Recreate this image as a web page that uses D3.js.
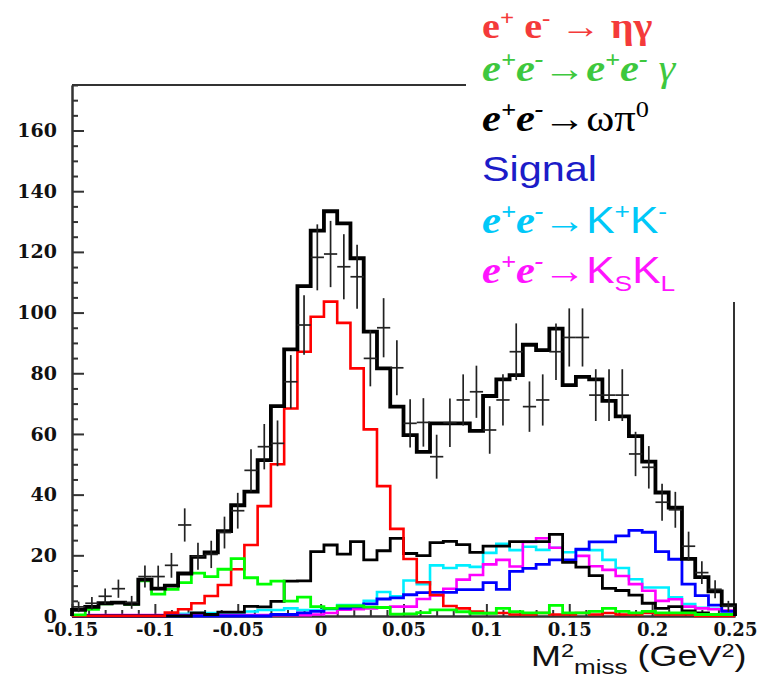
<!DOCTYPE html>
<html>
<head>
<meta charset="utf-8">
<script src="https://cdn.jsdelivr.net/npm/d3@7"></script>
<style>
  body { margin: 0; background: #fff; }
  svg { display: block; }
</style>
</head>
<body>
<script>
// Constant
const w = 757;
const h = 678;

// Binning of the histograms (50 bins of 0.008 GeV^2)
const binStart = -0.15;
const binWidth = 0.008;

// Data points (events per bin)
const dataCounts = [3, 4.2, 6.5, 9, 4.5, 13, 13, 16.7, 30, 19.7,
  20.3, 27.5, 34.7, 48, 55.8, 56.9, 77.2, 95.9, 118.2, 119.3,
  115.1, 111.8, 84.9, 95, 81.8, 63.5, 63.8, 52.5, 63.7, 71.2,
  73.9, 61.3, 71.2, 87.1, 69, 71.2, 87.1, 91.8, 91.8, 72.8,
  72.8, 72.8, 53.4, 49, 37.5, 35, 23, 14.3, 8.8, 3.2];

// Sum of all simulated contributions
const totalMC = [2, 3, 4.2, 4.4, 4, 12, 9, 10, 14, 19.5,
  21, 28, 36.5, 41, 51.4, 69.2, 87.9, 108.7, 127, 133.4,
  129.4, 117.9, 93.7, 81.6, 69, 59.6, 54.1, 63.5, 63.5, 63.5,
  61, 72.5, 78, 79.4, 89.4, 87.6, 94.7, 76.1, 78.8, 78,
  70.9, 65.8, 59.3, 50.9, 40.7, 35.7, 18.8, 12.8, 8.1, 3.6];

// e+e- -> eta gamma
const etaGamma = [0, 0, 0, 0, 0, 0, 0, 1.1, 2.2, 4.2,
  6.6, 10.2, 15.4, 23.4, 36.2, 50, 68.4, 87.1, 98.6, 103.6,
  96.6, 81.6, 61.5, 42.8, 28.7, 18.8, 11.1, 6.9, 3.3, 2.5,
  1.5, 1, 1, 0.5, 0.5, 1, 0.5, 0.5, 1, 0.5,
  1, 0.5, 0.5, 1, 0.5, 0.5, 0.5, 0, 0, 0];

// e+e- -> e+e- gamma
const eeGamma = [0.4, 2.2, 4, 4.5, 3.8, 11.6, 7.2, 8.8, 11, 14.1,
  13, 15.4, 18.9, 12.6, 10.5, 11.5, 4.9, 6.2, 3.1, 2.5,
  3.3, 3.3, 2.9, 2.8, 0.6, 0.7, 1.1, 2, 2, 1.4,
  0.9, 0.9, 2.5, 1.4, 1, 1, 3.5, 1, 1, 1.5,
  2.5, 1.5, 1, 1.5, 1, 1, 1, 0.5, 0.5, 0.5];

// e+e- -> omega pi0
const omegaPi0 = [0, 0, 0, 0, 0, 0, 0, 0, 0, 1,
  0.5, 1.3, 1.3, 3.2, 3, 4.8, 11.5, 11.6, 21.2, 23.4,
  20.4, 24.5, 18.5, 21.5, 25.6, 20.6, 19.9, 24.2, 24.6, 23.5,
  21, 23, 23, 24.5, 24.5, 24.5, 26.9, 17.7, 16.1, 13.3,
  9.1, 8.4, 6.9, 4.2, 2.5, 3.1, 1.7, 1, 0.5, 0.3];

// Signal
const signal = [0, 0, 0, 0, 0, 0, 0, 0, 0, 0,
  0, 0, 0, 0, 0, 0.5, 0.5, 1, 1.5, 2.5,
  2.5, 3, 4, 5.6, 6, 7, 7.7, 7.8, 7.8, 8.7,
  8.7, 11, 8.8, 14.7, 15.7, 17, 18.5, 18.5, 22, 24.4,
  24.4, 26.4, 28.2, 27.6, 21.2, 18.7, 10.5, 6.7, 3.6, 1.5];

// e+e- -> K+K-
const kCharged = [0, 0, 0, 0, 0, 0, 0, 0, 0.7, 1,
  1, 1, 1, 1.5, 2, 2, 2.5, 2, 2, 2.2,
  3.6, 3.6, 5, 7.9, 6.5, 11.7, 10.5, 16.7, 15.8, 16.7,
  16.2, 20.8, 23.8, 21.7, 22.8, 21.8, 22.5, 21, 21.8, 21.7,
  18.5, 15.8, 12.1, 9.4, 9.4, 6.2, 3.9, 2.7, 2.4, 1.7];

// e+e- -> KsKl
const kNeutral = [0, 0.3, 0.3, 0.3, 0.3, 0.3, 0.3, 0.3, 0.3, 0.3,
  0.3, 0.3, 0.3, 0.3, 0.3, 0.3, 0.3, 0.3, 0.5, 1,
  2.1, 2.2, 2.5, 2.8, 3.1, 3.1, 5.6, 6.8, 9, 12,
  13.5, 17, 18.5, 16.3, 24.4, 25.6, 22.5, 17.9, 19.8, 16.4,
  15.2, 13.2, 10.5, 8.3, 5, 5.5, 3.1, 2.5, 2.2, 1.8];

// Axis ticks
const yMajor = [0, 20, 40, 60, 80, 100, 120, 140, 160];
const xMajor = [-0.15, -0.1, -0.05, 0, 0.05, 0.1, 0.15, 0.2, 0.25];
const xLabels = ['-0.15', '-0.1', '-0.05', '0', '0.05', '0.1', '0.15', '0.2', '0.25'];

// Create the svg canvas
var svg = d3.select('body')
  .append('svg')
  .attr('width', w)
  .attr('height', h);

svg.append('rect').attr('width', w).attr('height', h).attr('fill', '#fff');

var x = d3.scaleLinear().domain([-0.15, 0.25]).range([72, 735]);
var y = d3.scaleLinear().domain([0, 175]).range([616, 85]);

// frame (upper and right parts partly hidden by the legend)
svg.append('line').attr('x1', x(-0.15)).attr('x2', 466)
  .attr('y1', y(175)).attr('y2', y(175))
  .attr('stroke', '#333').attr('stroke-width', 2);
svg.append('line').attr('x1', x(0.25) - 1).attr('x2', x(0.25) - 1)
  .attr('y1', 302).attr('y2', y(0))
  .attr('stroke', '#333').attr('stroke-width', 2);

// y axis
var yMinor = d3.range(0, 176, 5).filter(v => v % 20 !== 0);
var yAxis = svg.append('g').attr('transform', 'translate(' + x(-0.15) + ',0)');
yAxis.call(d3.axisLeft(y).tickValues(yMinor).tickSize(-6).tickSizeOuter(0).tickFormat(''));
yAxis.append('g').call(d3.axisLeft(y).tickValues(yMajor).tickSize(-12).tickSizeOuter(0).tickPadding(15));
yAxis.selectAll('path, line').attr('stroke', '#333').attr('stroke-width', 2);
yAxis.selectAll('text')
  .attr('font-family', 'DejaVu Serif')
  .attr('font-weight', 'bold')
  .attr('font-size', 19)
  .attr('fill', '#111');

// x axis
var xMinor = d3.range(-15, 26).map(v => v / 100).filter(v => Math.abs(Math.round(v * 100) % 5) !== 0);
var xAxis = svg.append('g').attr('transform', 'translate(0,' + y(0) + ')');
xAxis.call(d3.axisBottom(x).tickValues(xMinor).tickSize(-6).tickSizeOuter(0).tickFormat(''));
xAxis.append('g').call(d3.axisBottom(x).tickValues(xMajor).tickSize(-12).tickSizeOuter(0)
  .tickFormat((d, i) => xLabels[i]));
xAxis.selectAll('path, line').attr('stroke', '#333').attr('stroke-width', 2);
xAxis.selectAll('text')
  .attr('y', 20)
  .attr('dy', 0)
  .attr('font-family', 'DejaVu Serif')
  .attr('font-weight', 'bold')
  .attr('font-size', 18)
  .attr('fill', '#111');

// histograms as steps
function stepPath(values) {
  var p = d3.path();
  p.moveTo(x(binStart), y(0));
  values.forEach(function (v, i) {
    var x0 = x(binStart + i * binWidth);
    var x1 = x(binStart + (i + 1) * binWidth);
    p.lineTo(x0, y(v));
    p.lineTo(x1, y(v));
  });
  p.lineTo(x(binStart + values.length * binWidth), y(0));
  return p.toString();
}

var hists = [
  { values: kCharged, color: '#00eeff', width: 2.6 },
  { values: kNeutral, color: '#ff00ff', width: 2.6 },
  { values: signal, color: '#0000ff', width: 2.8 },
  { values: omegaPi0, color: '#000000', width: 2.8 },
  { values: etaGamma, color: '#ff0000', width: 2.6 },
  { values: eeGamma, color: '#00ff00', width: 2.8 },
  { values: totalMC, color: '#000000', width: 3.8 }
];

svg.selectAll('path.hist')
  .data(hists)
  .enter()
  .append('path')
  .attr('class', 'hist')
  .attr('d', d => stepPath(d.values))
  .attr('fill', 'none')
  .attr('stroke', d => d.color)
  .attr('stroke-width', d => d.width)
  .attr('stroke-linejoin', 'miter');

// data points with poisson errors
var pts = svg.selectAll('g.pt')
  .data(dataCounts)
  .enter()
  .append('g')
  .attr('class', 'pt');

pts.append('line')
  .attr('x1', (d, i) => x(binStart + (i + 0.5) * binWidth))
  .attr('x2', (d, i) => x(binStart + (i + 0.5) * binWidth))
  .attr('y1', d => y(d + Math.sqrt(d)))
  .attr('y2', d => y(Math.max(0, d - Math.sqrt(d))));
pts.append('line')
  .attr('x1', (d, i) => x(binStart + i * binWidth))
  .attr('x2', (d, i) => x(binStart + (i + 1) * binWidth))
  .attr('y1', d => y(d))
  .attr('y2', d => y(d));
pts.selectAll('line').attr('stroke', '#222').attr('stroke-width', 1.7);

// x axis title
var title = svg.append('text')
  .attr('transform', 'translate(531,666) scale(1.24,1)')
  .attr('font-family', 'Liberation Sans')
  .attr('font-size', 29)
  .attr('fill', '#111');
title.append('tspan').text('M');
title.append('tspan').attr('dy', -9).attr('font-size', 19).text('2');
title.append('tspan').attr('dy', 17).attr('font-size', 21).text('miss');
title.append('tspan').attr('dy', -8).text(' (GeV');
title.append('tspan').attr('dy', -9).attr('font-size', 19).text('2');
title.append('tspan').attr('dy', 9).text(')');

// legend
const legendNames = [
  [['e', 'sb'], ['+', 'sb', 1], [' e', 'sb'], ['-', 'sb', 1], [' \u2192 ', 'sb'], ['\u03b7\u03b3', 'sb']],
  [['e', 'sbi'], ['+', 'sbi', 1], ['e', 'sbi'], ['-', 'sbi', 1], ['\u2192', 'sb'], ['e', 'sbi'], ['+', 'sbi', 1], ['e', 'sbi'], ['-', 'sbi', 1], [' \u03b3', 'si']],
  [['e', 'sbi'], ['+', 'sbi', 1], ['e', 'sbi'], ['-', 'sbi', 1], ['\u2192\u03c9\u03c0', 's'], ['0', 's', 1]],
  [['Signal', 'sans']],
  [['e', 'sbi'], ['+', 'sbi', 1], ['e', 'sbi'], ['-', 'sbi', 1], ['\u2192', 'sansb'], ['K', 'sans'], ['+', 'sans', 1], ['K', 'sans'], ['-', 'sans', 1]],
  [['e', 'sbi'], ['+', 'sbi', 1], ['e', 'sbi'], ['-', 'sbi', 1], ['\u2192', 'sansb'], ['K', 'sans'], ['S', 'sans', -1], ['K', 'sans'], ['L', 'sans', -1]]
];
const legendColors = ['#f43a3a', '#3ec83e', '#000000', '#1c1cc8', '#00c8f8', '#ff14ff'];
const legendSizes = [35, 37, 37, 36, 37, 37];
const legendBase = [38, 81, 131, 181, 233, 283];

const fonts = {
  sb: ['Liberation Serif', 'bold', 'normal'],
  sbi: ['Liberation Serif', 'bold', 'italic'],
  si: ['Liberation Serif', 'normal', 'italic'],
  s: ['Liberation Serif', 'normal', 'normal'],
  sans: ['Liberation Sans', 'normal', 'normal'],
  sansb: ['Liberation Sans', 'bold', 'normal']
};

legendNames.forEach(function (segs, li) {
  var size = legendSizes[li];
  var t = svg.append('text')
    .attr('transform', 'translate(482,' + legendBase[li] + ') scale(1.15,1)')
    .attr('fill', legendColors[li])
    .attr('font-size', size)
    .style('white-space', 'pre');
  var shift = 0;
  segs.forEach(function (s) {
    var f = fonts[s[1]];
    var lvl = s[2] || 0;
    var target = lvl === 1 ? -0.38 * size : (lvl === -1 ? 0.22 * size : 0);
    var sp = t.append('tspan')
      .attr('font-family', f[0])
      .attr('font-weight', f[1])
      .attr('font-style', f[2])
      .attr('dy', target - shift)
      .text(s[0]);
    if (lvl !== 0) sp.attr('font-size', size * 0.62);
    shift = target;
  });
});
</script>
</body>
</html>
